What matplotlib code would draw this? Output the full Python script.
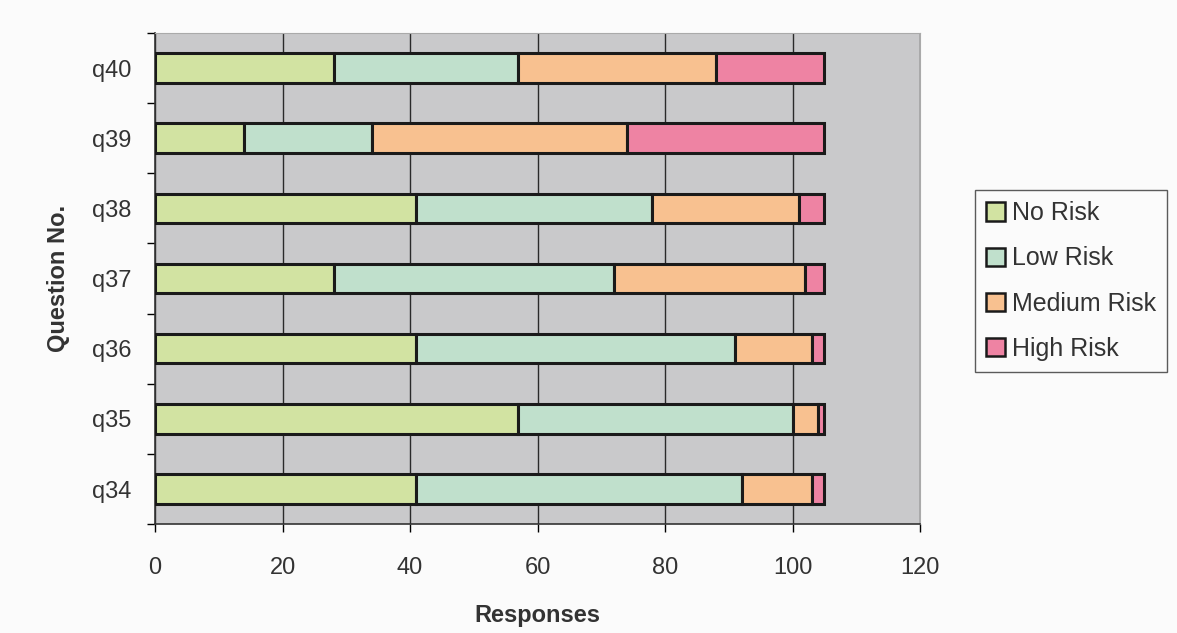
import numpy as np
import matplotlib
matplotlib.use('Agg')
import matplotlib.pyplot as plt
from matplotlib.patches import Patch

plt.rcParams['font.family'] = ['Liberation Sans', 'DejaVu Sans']

# 数据
questions = ['q34', 'q35', 'q36', 'q37', 'q38', 'q39', 'q40']
no_risk = [41, 57, 41, 28, 41, 14, 28]
low_risk = [51, 43, 50, 44, 37, 20, 29]
medium_risk = [11, 4, 12, 30, 23, 40, 31]
high_risk = [2, 1, 2, 3, 4, 31, 17]
series_names = ['No Risk', 'Low Risk', 'Medium Risk', 'High Risk']
colors = ['#d2e3a2', '#c0e0cc', '#f8c190', '#ee83a3']
x_ticks = [0, 20, 40, 60, 80, 100, 120]

fig = plt.figure(figsize=(11.77, 6.33), dpi=100)
fig.patch.set_facecolor('#fbfbfb')
ax = fig.add_axes([0.1317, 0.172, 0.65, 0.776])
ax.set_facecolor('#c9c9cb')

y = np.arange(len(questions))
left = np.zeros(len(questions))
for vals, name, c in zip([no_risk, low_risk, medium_risk, high_risk], series_names, colors):
    ax.barh(y, vals, left=left, height=0.42, color=c, edgecolor='#1a1a1a',
            linewidth=2.2, label=name, zorder=3)
    left += np.array(vals)

ax.set_xlim(0, 120)
ax.set_ylim(-0.5, len(questions) - 0.5)
ax.set_xticks(x_ticks)
ax.set_xticklabels([str(t) for t in x_ticks], fontsize=17, color='#333333')
ax.xaxis.grid(True, color='#2a2a2a', linewidth=1.0, zorder=1)
ax.tick_params(axis='x', direction='out', length=6, width=1, pad=18)

# y轴：主刻度在分类边界，标签在中心
ax.set_yticks(np.arange(-0.5, len(questions), 1.0))
ax.set_yticklabels([])
ax.set_yticks(y, minor=True)
ax.set_yticklabels(questions, minor=True, fontsize=17, color='#333333')
ax.tick_params(axis='y', which='minor', length=0, pad=17)
ax.tick_params(axis='y', which='major', direction='out', length=6, width=1)

for side in ['left', 'bottom']:
    ax.spines[side].set_color('#333333')
    ax.spines[side].set_linewidth(1.2)
for side in ['top', 'right']:
    ax.spines[side].set_color('#aaaaaa')
    ax.spines[side].set_linewidth(0.8)

ax.set_xlabel('Responses', fontsize=17, fontweight='bold', color='#333333', labelpad=18)
ax.set_ylabel('Question No.', fontsize=17, fontweight='bold', color='#333333', labelpad=16)

handles = [Patch(facecolor=c, edgecolor='#1a1a1a', linewidth=1.8, label=n)
           for c, n in zip(colors, series_names)]
leg = fig.legend(handles=handles, loc='center left', bbox_to_anchor=(0.828, 0.556),
                 fontsize=18, frameon=True, fancybox=False, handlelength=0.75,
                 handleheight=0.75, handletextpad=0.3, labelspacing=0.85,
                 borderpad=0.45, borderaxespad=0, labelcolor='#333333')
leg.get_frame().set_edgecolor('#333333')
leg.get_frame().set_linewidth(1.0)
leg.get_frame().set_facecolor('#fbfbfb')

fig.savefig('out.png', dpi=100, facecolor=fig.get_facecolor())
